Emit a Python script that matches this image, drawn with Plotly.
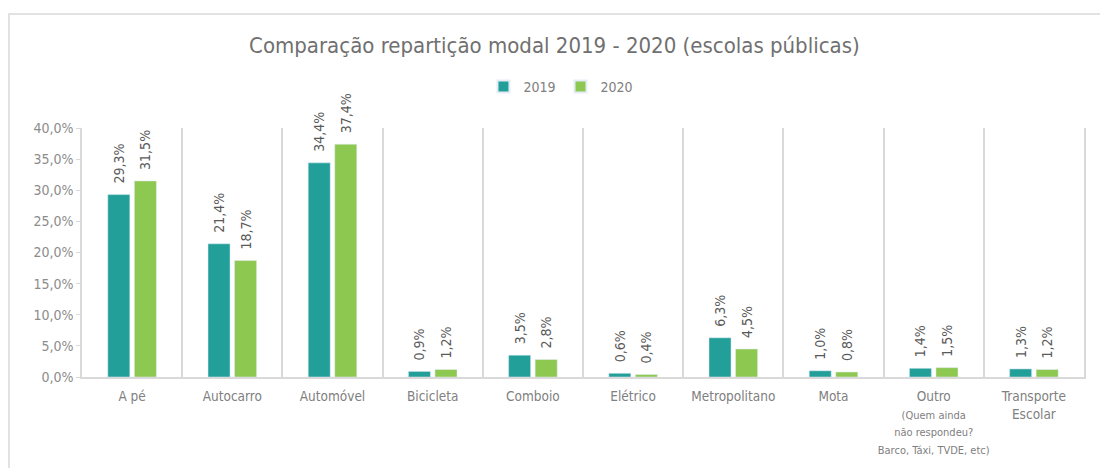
import plotly.graph_objects as go

categories = ["A pé", "Autocarro", "Automóvel", "Bicicleta", "Comboio", "Elétrico",
              "Metropolitano", "Mota", "Outro", "Transporte Escolar"]
tick_labels = ["A pé", "Autocarro", "Automóvel", "Bicicleta", "Comboio", "Elétrico",
               "Metropolitano", "Mota",
               "Outro<br><span style='font-size:11px'>(Quem ainda</span><br><span style='font-size:11px'>não respondeu?</span><br><span style='font-size:11px'>Barco, Táxi, TVDE, etc)</span>",
               "Transporte<br>Escolar"]
values_2019 = [29.3, 21.4, 34.4, 0.9, 3.5, 0.6, 6.3, 1.0, 1.4, 1.3]
values_2020 = [31.5, 18.7, 37.4, 1.2, 2.8, 0.4, 4.5, 0.8, 1.5, 1.2]
y_ticks = [0, 5, 10, 15, 20, 25, 30, 35, 40]
y_tick_text = ["0,0%", "5,0%", "10,0%", "15,0%", "20,0%", "25,0%", "30,0%", "35,0%", "40,0%"]

FONT = "DejaVu Sans Condensed, Liberation Sans Narrow, Roboto, sans-serif"
TEAL = "#239F9A"
GREEN = "#8DC850"

fig = go.Figure()
for name, vals, col in [("2019", values_2019, TEAL), ("2020", values_2020, GREEN)]:
    fig.add_trace(go.Bar(
        x=categories, y=vals, name=name, marker_color=col,
        text=["  " + f"{v:.1f}%".replace(".", ",") for v in vals],
        textposition="outside", textangle=-90, cliponaxis=False, constraintext="none",
        textfont=dict(family=FONT, size=14, color="#595959"),
    ))

fig.update_layout(
    width=1100, height=468,
    margin=dict(l=82, r=16, t=128, b=91),
    paper_bgcolor="white", plot_bgcolor="white",
    barmode="group", bargap=0.47, bargroupgap=0.17,
    separators=",.",
    font=dict(family=FONT, color="#808080"),
    title=dict(text="Comparação repartição modal 2019 - 2020 (escolas públicas)",
               x=0.504, xanchor="center", y=1 - 45 / 468, yanchor="middle", yref="container",
               font=dict(family=FONT, size=22, color="#707070")),
    legend=dict(orientation="h", x=0.478, xanchor="center", y=1.165, yanchor="middle",
                font=dict(family=FONT, size=14, color="#808080"),
                traceorder="normal", itemwidth=30, itemsizing="constant"),
)
fig.update_xaxes(
    tickmode="array", tickvals=categories, ticktext=tick_labels, tickangle=0,
    automargin=False,
    tickson="boundaries", showgrid=True, gridcolor="#D9D9D9", gridwidth=1.5,
    showline=True, linecolor="#D9D9D9", linewidth=1.5,
    ticks="", ticklabelstandoff=6,
    tickfont=dict(family=FONT, size=13.5, color="#808080"),
)
fig.update_yaxes(
    range=[0, 40], tickmode="array", tickvals=y_ticks, ticktext=y_tick_text,
    automargin=False,
    showgrid=False, zeroline=False,
    showline=True, linecolor="#D9D9D9", linewidth=1.5, mirror=True,
    ticks="outside", ticklen=4, tickcolor="#D9D9D9",
    tickfont=dict(family=FONT, size=14, color="#8C8C8C"),
)
# outer chart frame
fig.add_shape(type="rect", xref="paper", yref="paper",
              x0=(9 - 82) / 1002, x1=(1110 - 82) / 1002,
              y0=(377 - 480) / 249, y1=(377 - 14) / 249,
              line=dict(color="#D9D9D9", width=1.5), fillcolor="rgba(0,0,0,0)", layer="below")

fig.write_html("out.html", config={"displayModeBar": False},
               post_script="document.body.style.margin='0';")
